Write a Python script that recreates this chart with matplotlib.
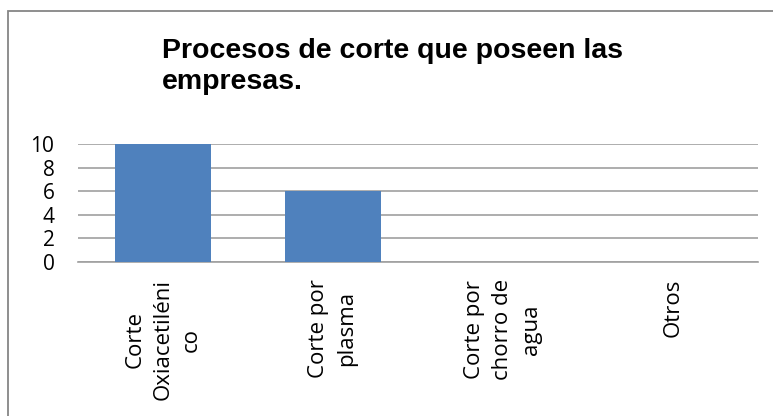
import matplotlib.pyplot as plt
from matplotlib.patches import Rectangle

categories = ['Corte\nOxiacetiléni\nco', 'Corte por\nplasma', 'Corte por\nchorro de\nagua', 'Otros']
values = [10, 6, 0, 0]
yticks = [0, 2, 4, 6, 8, 10]

fig = plt.figure(figsize=(7.73, 4.16), dpi=100)
ax = fig.add_axes([78 / 773, 1 - 262 / 416, (758 - 78) / 773, (262 - 144) / 416])

x = list(range(len(categories)))
ax.bar(x, values, width=0.565, color='#4f81bd', zorder=3)
ax.set_xlim(-0.5, len(categories) - 0.5)
ax.set_ylim(0, 10)
ax.set_yticks(yticks)
ax.set_yticklabels([str(t) for t in yticks], fontsize=15, family='Open Sans')
ax.yaxis.grid(True, color='#a0a0a0', linewidth=1.2, zorder=0)
ax.tick_params(axis='y', length=0, pad=17)
ax.tick_params(axis='x', length=0)
ax.set_xticks(x)
ax.set_xticklabels([])
for s in ['top', 'right', 'left']:
    ax.spines[s].set_visible(False)
ax.spines['bottom'].set_color('#a0a0a0')
ax.spines['bottom'].set_linewidth(1.2)

for i, lab in enumerate(categories):
    ax.text(i, -1.45, lab, rotation=90, ha='center', va='top', multialignment='center',
            fontsize=16, family='Open Sans', linespacing=1.45)

fig.text(162 / 773, 1 - 38 / 416, 'Procesos de corte que poseen las\nempresas.',
         ha='left', va='top', fontsize=20.5, fontweight='bold', family='Liberation Sans',
         linespacing=1.27)

# chart frame: only top and left edges fall inside the picture
fig.patches.append(Rectangle((8 / 773, -0.1), 1.2, 1 - 11 / 416 + 0.1, transform=fig.transFigure,
                             fill=False, edgecolor='#868686', linewidth=1.3))

fig.savefig('out.png', dpi=100)
